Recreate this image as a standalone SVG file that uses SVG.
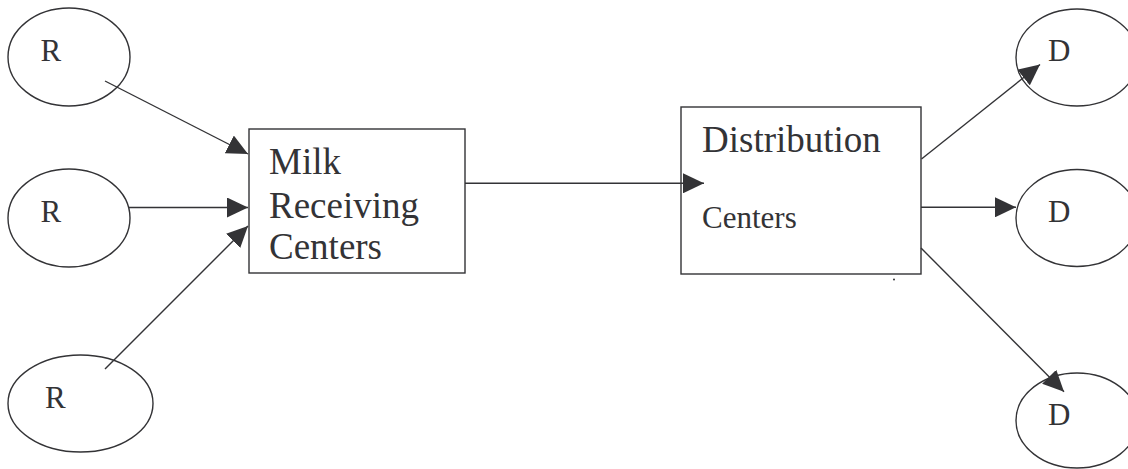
<svg xmlns="http://www.w3.org/2000/svg" width="1128" height="469" viewBox="0 0 1128 469">
<style>
.shape{fill:none;stroke:#333336;stroke-width:1.4}
.big{font-family:"Liberation Serif","Times New Roman",serif;font-size:37px;fill:#333336}
.small{font-family:"Liberation Serif","Times New Roman",serif;font-size:31px;fill:#333336}
.conn{fill:none;stroke:#333336;stroke-width:1.4}
</style>
<defs>
<marker id="ah" markerUnits="userSpaceOnUse" markerWidth="21" markerHeight="20" refX="21" refY="10" orient="auto">
<path d="M0,0 L21,10 L0,20 z" fill="#333336"/>
</marker>
</defs>
<rect width="1128" height="469" fill="#ffffff"/>
<g id="r1"><ellipse class="shape" cx="69" cy="57" rx="61" ry="49"/><text class="small" x="40.5" y="61">R</text></g>
<g id="r2"><ellipse class="shape" cx="69" cy="218" rx="61" ry="49"/><text class="small" x="40.5" y="222">R</text></g>
<g id="r3"><ellipse class="shape" cx="80.5" cy="403.5" rx="72.5" ry="48.5"/><text class="small" x="45" y="408">R</text></g>
<g id="milk">
<rect class="shape" x="249" y="129" width="216" height="144"/>
<text class="big" x="269" y="174">Milk</text>
<text class="big" x="269" y="218">Receiving</text>
<text class="big" x="269" y="259">Centers</text>
</g>
<g id="dist">
<rect class="shape" x="681" y="107" width="240" height="167"/>
<text class="big" x="702" y="152">Distribution</text>
<text class="small" x="702" y="228">Centers</text>
<circle cx="894" cy="279.5" r="1" fill="#333336"/>
</g>
<g id="d1"><ellipse class="shape" cx="1077" cy="57.5" rx="61" ry="48.5"/><text class="small" x="1048" y="61">D</text></g>
<g id="d2"><ellipse class="shape" cx="1077" cy="218" rx="61" ry="48.5"/><text class="small" x="1048" y="222">D</text></g>
<g id="d3"><ellipse class="shape" cx="1077" cy="420.5" rx="61" ry="47.5"/><text class="small" x="1048" y="425">D</text></g>
<g id="connectors">
<line class="conn" x1="105" y1="81" x2="248" y2="154" marker-end="url(#ah)"/>
<line class="conn" x1="129" y1="207.5" x2="248" y2="207.5" marker-end="url(#ah)"/>
<line class="conn" x1="105" y1="369" x2="248" y2="226" marker-end="url(#ah)"/>
<line class="conn" x1="465" y1="183.3" x2="704" y2="183.3" marker-end="url(#ah)"/>
<line class="conn" x1="921.5" y1="159" x2="1040" y2="64.5" marker-end="url(#ah)"/>
<line class="conn" x1="921" y1="207.3" x2="1016" y2="207.3" marker-end="url(#ah)"/>
<line class="conn" x1="921" y1="248" x2="1064" y2="391.7" marker-end="url(#ah)"/>
</g>
</svg>
